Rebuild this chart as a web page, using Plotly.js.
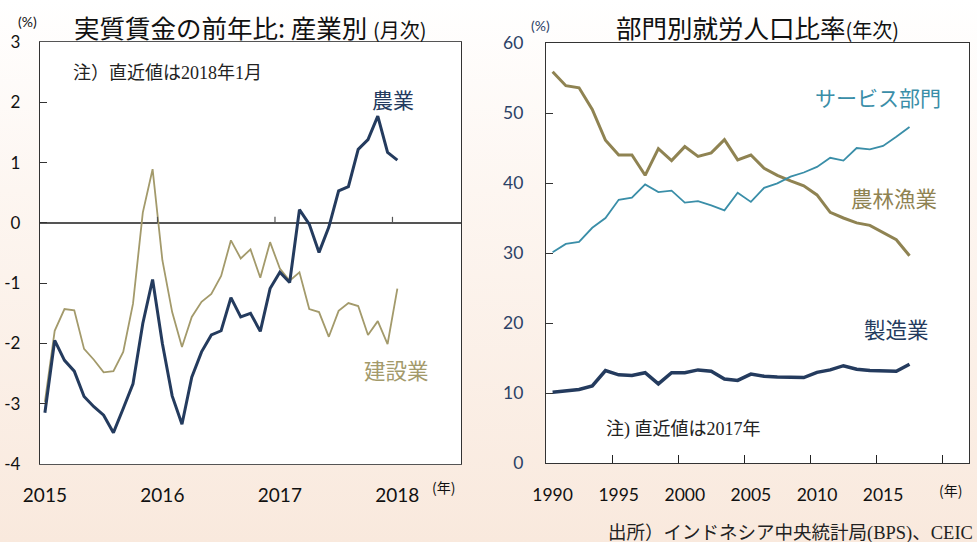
<!DOCTYPE html>
<html>
<head>
<meta charset="utf-8">
<script src="https://cdn.plot.ly/plotly-3.0.1.min.js"></script>
<style>
  html, body { margin: 0; padding: 0; }
  body { background: linear-gradient(to bottom, #ffffff 0%, #fdf6f1 35%, #f9e9dd 100%); }
  #chart { width: 977px; height: 542px; }
</style>
</head>
<body>
<div id="chart"></div>
<script>
// 月次データ (2015年1月 = 0 ... 2018年1月 = 36)
const months = Array.from({length: 37}, (_, i) => i);
const nogyo = [-3.15, -1.95, -2.28, -2.46, -2.88, -3.05, -3.19, -3.48, -3.08, -2.67, -1.67, -0.94,
               -2.0, -2.87, -3.34, -2.56, -2.14, -1.86, -1.79, -1.24, -1.56, -1.50, -1.80, -1.09,
               -0.82, -0.99, 0.22, -0.02, -0.49, -0.07, 0.53, 0.60, 1.22, 1.38, 1.77, 1.17, 1.04];
const kensetsu = [-2.97, -1.79, -1.43, -1.45, -2.09, -2.27, -2.48, -2.46, -2.14, -1.34, 0.17, 0.89,
                  -0.62, -1.48, -2.06, -1.56, -1.31, -1.18, -0.88, -0.29, -0.59, -0.44, -0.91, -0.32,
                  -0.76, -0.96, -0.82, -1.43, -1.48, -1.89, -1.46, -1.33, -1.38, -1.86, -1.63, -2.01, -1.09];
const monthTickVals = [0, 12, 24, 36];
const monthTickText = ["2015", "2016", "2017", "2018"];
const wageTickVals = [-4, -3, -2, -1, 0, 1, 2, 3];
const wageTickText = ["-4", "-3", "-2", "-1", "0", "1", "2", "3"];

// 年次データ (1990-2017)
const years = Array.from({length: 28}, (_, i) => 1990 + i);
const norinGyogyo = [55.9, 53.9, 53.6, 50.5, 46.1, 44.0, 44.0, 41.1, 44.9, 43.2, 45.2, 43.8, 44.3, 46.2,
                     43.3, 44.0, 42.1, 41.1, 40.3, 39.6, 38.3, 35.8, 35.0, 34.3, 33.95, 32.9, 31.9, 29.6];
const service = [30.1, 31.3, 31.6, 33.6, 35.0, 37.6, 37.9, 39.8, 38.7, 38.9, 37.2, 37.4, 36.8, 36.1,
                 38.6, 37.3, 39.3, 39.95, 40.9, 41.5, 42.3, 43.6, 43.2, 45.0, 44.8, 45.3, 46.6, 48.0];
const seizo = [10.1, 10.3, 10.5, 11.0, 13.2, 12.6, 12.5, 12.9, 11.3, 12.9, 12.9, 13.3, 13.1, 12.0,
               11.8, 12.7, 12.4, 12.3, 12.2, 12.2, 12.95, 13.3, 13.9, 13.4, 13.2, 13.2, 13.1, 14.1];
const yearTickVals = [1990, 1995, 2000, 2005, 2010, 2015];

const NAVY = "#243b5e";
const OLIVE = "#a39a6b";
const OLIVE_DK = "#8f8352";
const TEAL = "#3a8ea8";
const NUMFONT = "Lato, 'Noto Sans CJK JP', sans-serif";
const JPFONT = "'Noto Sans CJK JP', sans-serif";
const SERIFJP = "'Liberation Serif', 'Noto Sans CJK JP', serif";

const W = 977, H = 542;
const px = x => x / W;
const py = y => 1 - y / H;

const traces = [
  {x: months, y: kensetsu, type: "scatter", mode: "lines", xaxis: "x", yaxis: "y",
   line: {color: OLIVE, width: 1.8}, hoverinfo: "skip"},
  {x: months, y: nogyo, type: "scatter", mode: "lines", xaxis: "x", yaxis: "y",
   line: {color: NAVY, width: 3}, hoverinfo: "skip"},
  {x: years, y: norinGyogyo, type: "scatter", mode: "lines", xaxis: "x2", yaxis: "y2",
   line: {color: OLIVE_DK, width: 3}, hoverinfo: "skip"},
  {x: years, y: service, type: "scatter", mode: "lines", xaxis: "x2", yaxis: "y2",
   line: {color: TEAL, width: 1.8}, hoverinfo: "skip"},
  {x: years, y: seizo, type: "scatter", mode: "lines", xaxis: "x2", yaxis: "y2",
   line: {color: NAVY, width: 3.5}, hoverinfo: "skip"}
];

function ann(text, x, y, size, color, family, extra) {
  return Object.assign({text: text, x: px(x), y: py(y), xref: "paper", yref: "paper",
    showarrow: false, xanchor: "center", yanchor: "middle",
    font: {size: size, color: color || "#111", family: family || JPFONT}}, extra || {});
}

// 0線上の年区切り目盛り
const zeroTicks = [11.5, 23.5, 35.5].map(v => ({
  type: "line", xref: "x", yref: "y", x0: v, x1: v, y0: 0, y1: 0.1,
  line: {color: "#555", width: 1.2}
}));

const layout = {
  width: W, height: H,
  margin: {l: 0, r: 0, t: 0, b: 0},
  paper_bgcolor: "rgba(0,0,0,0)",
  plot_bgcolor: "#ffffff",
  showlegend: false,
  xaxis: {
    domain: [px(40), px(461)], range: [-0.5, 42.5],
    tickvals: monthTickVals, ticktext: monthTickText, ticks: "",
    ticklabelstandoff: 14,
    tickfont: {size: 19, family: NUMFONT, color: "#111"},
    showgrid: false, zeroline: false,
    showline: true, mirror: true, linecolor: "#555", linewidth: 1.2
  },
  yaxis: {
    domain: [py(464), py(42)], range: [-4, 3],
    tickvals: wageTickVals, ticktext: wageTickText,
    ticks: "inside", ticklen: 7, tickcolor: "#333",
    ticklabelstandoff: 15,
    tickfont: {size: 17, family: NUMFONT, color: "#111"},
    showgrid: false, zeroline: true, zerolinecolor: "#555", zerolinewidth: 1.5,
    showline: true, mirror: true, linecolor: "#333", linewidth: 1.2
  },
  xaxis2: {
    anchor: "y2",
    domain: [px(546), px(969)], range: [1989.5, 2021.5],
    tickvals: yearTickVals, ticks: "",
    ticklabelstandoff: 16,
    tickfont: {size: 17.5, family: NUMFONT, color: "#111"},
    minor: {tickmode: "array", tickvals: [1994.5, 1999.5, 2004.5, 2009.5, 2014.5, 2019.5],
            ticks: "inside", ticklen: 8, tickcolor: "#222", showgrid: false},
    showgrid: false, zeroline: false,
    showline: true, mirror: true, linecolor: "#333", linewidth: 1.2
  },
  yaxis2: {
    anchor: "x2",
    domain: [py(463), py(43)], range: [0, 60], dtick: 10,
    ticks: "inside", ticklen: 7, tickcolor: "#333",
    ticklabelstandoff: 18,
    tickfont: {size: 17.5, family: NUMFONT, color: "#2b4166"},
    showgrid: false, zeroline: false,
    showline: true, mirror: true, linecolor: "#333", linewidth: 1.2
  },
  shapes: zeroTicks,
  annotations: [
    ann("実質賃金の前年比: 産業別 <span style='font-size:20px'>(月次)</span>", 250, 27, 25.5, "#111"),
    ann("部門別就労人口比率<span style='font-size:20px'>(年次)</span>", 757, 27, 25.5, "#111"),
    ann("(%)", 27, 21, 14, "#111", NUMFONT),
    ann("(%)", 540, 25, 14, "#2b4166", NUMFONT),
    ann("注）直近値は2018年1月", 167, 73, 18, "#222", SERIFJP),
    ann("注) 直近値は2017年", 683, 429, 18, "#222", SERIFJP),
    ann("農業", 393, 99, 21, NAVY),
    ann("建設業", 396, 369, 21.5, OLIVE),
    ann("サービス部門", 878, 97, 21, TEAL),
    ann("農林漁業", 894, 198, 21.5, OLIVE_DK),
    ann("製造業", 896, 328, 21.5, NAVY),
    ann("(年)", 443, 487, 14, "#111"),
    ann("(年)", 950, 490, 14, "#111"),
    ann("出所）インドネシア中央統計局(BPS)、CEIC", 975, 533, 18.5, "#222", SERIFJP, {xanchor: "right"})
  ]
};

Plotly.newPlot("chart", traces, layout, {staticPlot: true});
</script>
</body>
</html>
